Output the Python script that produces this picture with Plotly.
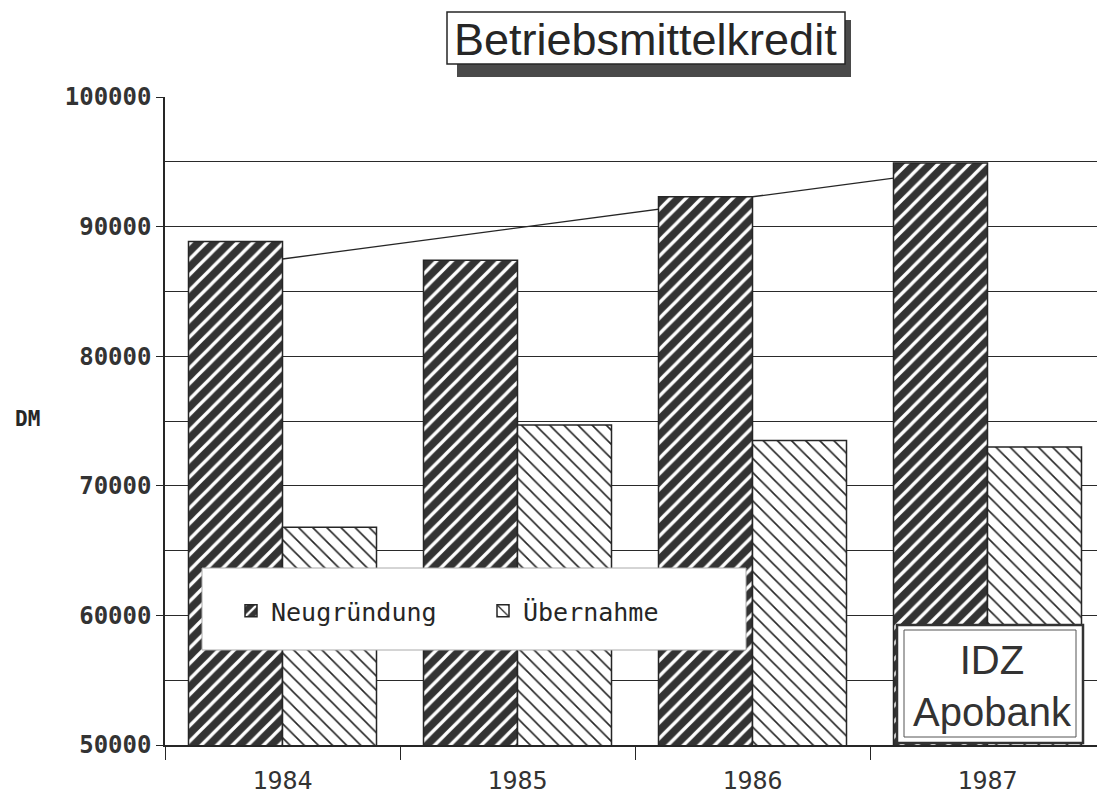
import plotly.graph_objects as go

# ---------------- data ----------------
years = ["1984", "1985", "1986", "1987"]
neugruendung = [88850, 87400, 92300, 94900]
uebernahme = [66800, 74700, 73500, 73000]
trend = [87500, 89900, 92300, 94700]
ytick_vals = [50000, 60000, 70000, 80000, 90000, 100000]
ytick_text = ["50000", "60000", "70000", "80000", "90000", "100000"]

# ---------------- layout helpers (screen pixel coords) ----------------
SW, SH = 1105, 798          # browser window
OFF = 8                     # page body margin
W, H = SW - OFF, SH - OFF   # figure size
PL, PR, PT, PB = 165, 1105, 97, 745   # plot area in screen pixels
L, T = PL - OFF, PT - OFF
R, B = 0, (SH - PB)
PW, PH = PR - PL, PB - PT


def px(x):
    return (x - PL) / PW


def py(y):
    return (PB - y) / PH


INK = "#262626"

fig = go.Figure()

# trend line (main subplot, drawn below the bars of the overlay subplot)
fig.add_trace(go.Scatter(
    x=years, y=trend, mode="lines",
    line=dict(color=INK, width=1.3),
    showlegend=False, hoverinfo="skip",
    xaxis="x", yaxis="y",
))

fig.add_trace(go.Bar(
    name="Neugründung", x=years, y=neugruendung,
    xaxis="x", yaxis="y2",
    marker=dict(
        color="#333333",
        line=dict(color=INK, width=1.5),
        pattern=dict(shape="/", fgcolor="white", bgcolor="#333333",
                     size=11, solidity=0.3, fillmode="replace"),
    ),
))
fig.add_trace(go.Bar(
    name="Übernahme", x=years, y=uebernahme,
    xaxis="x", yaxis="y2",
    marker=dict(
        color="white",
        line=dict(color=INK, width=1.5),
        pattern=dict(shape="\\", fgcolor=INK, bgcolor="white",
                     size=10, solidity=0.16, fillmode="replace"),
    ),
))

shapes = [
    # title shadow and box
    dict(type="rect", xref="paper", yref="paper",
         x0=px(457), x1=px(851), y0=py(77), y1=py(20),
         fillcolor="#4a4a4a", line=dict(width=0), layer="above"),
    dict(type="rect", xref="paper", yref="paper",
         x0=px(447), x1=px(845), y0=py(64), y1=py(12),
         fillcolor="white", line=dict(color=INK, width=1.5), layer="above"),
    # legend box
    dict(type="rect", xref="paper", yref="paper",
         x0=px(202), x1=px(746), y0=py(650), y1=py(568),
         fillcolor="white", line=dict(color="#aaaaaa", width=1), layer="above"),
    # IDZ Apobank box (double frame)
    dict(type="rect", xref="paper", yref="paper",
         x0=px(897), x1=px(1083), y0=py(743), y1=py(625),
         fillcolor="white", line=dict(color="#333333", width=2.5), layer="above"),
    dict(type="rect", xref="paper", yref="paper",
         x0=px(904), x1=px(1076), y0=py(737), y1=py(630),
         fillcolor="rgba(0,0,0,0)", line=dict(color="#555555", width=1), layer="above"),
]

annotations = [
    dict(text="Betriebsmittelkredit", xref="paper", yref="paper",
         x=px(645), y=py(39), xanchor="center", yanchor="middle", showarrow=False,
         font=dict(family="Liberation Sans", size=45, color=INK)),
    dict(text="IDZ<br>Apobank", xref="paper", yref="paper",
         x=px(992), y=py(686), xanchor="center", yanchor="middle", showarrow=False,
         font=dict(family="Liberation Sans", size=40, color="#333333")),
    dict(text="DM", xref="paper", yref="paper",
         x=px(27), y=py(419), xanchor="center", yanchor="middle", showarrow=False,
         font=dict(family="DejaVu Sans Mono", size=21, color=INK, weight="bold")),
]

fig.update_layout(
    width=W, height=H,
    margin=dict(l=L, r=R, t=T, b=B, pad=0),
    paper_bgcolor="white", plot_bgcolor="white",
    barmode="group", bargap=0.2, bargroupgap=0,
    showlegend=True,
    legend=dict(
        orientation="h", x=px(231), xanchor="left", y=py(611), yanchor="middle",
        bgcolor="rgba(0,0,0,0)", borderwidth=0,
        font=dict(family="DejaVu Sans Mono", size=25, color=INK),
        entrywidth=207, entrywidthmode="pixels",
    ),
    xaxis=dict(
        type="category", range=[-0.5, 3.5],
        showline=True, linecolor=INK, linewidth=1.5,
        ticks="outside", tickson="boundaries", ticklen=13, tickwidth=1.3, tickcolor=INK,
        ticklabelstandoff=12,
        showgrid=False, zeroline=False,
        tickfont=dict(family="DejaVu Sans Mono", size=25, color="#333333"),
    ),
    yaxis=dict(
        range=[50000, 100000], tickvals=ytick_vals, ticktext=ytick_text,
        ticks="outside", ticklen=7, tickwidth=1.3, tickcolor=INK,
        showline=True, linecolor=INK, linewidth=1.5,
        showgrid=True, gridcolor="#2a2a2a", gridwidth=1.3,
        minor=dict(dtick=5000, tick0=50000, showgrid=True,
                   gridcolor="#2a2a2a", gridwidth=1.3, ticks=""),
        zeroline=False,
        tickfont=dict(family="DejaVu Sans Mono", size=24, color="#333333", weight="bold"),
    ),
    yaxis2=dict(
        range=[50000, 100000], overlaying="y", side="left",
        visible=False, showgrid=False, zeroline=False,
    ),
    shapes=shapes,
    annotations=annotations,
)

fig.write_html("out.html")
